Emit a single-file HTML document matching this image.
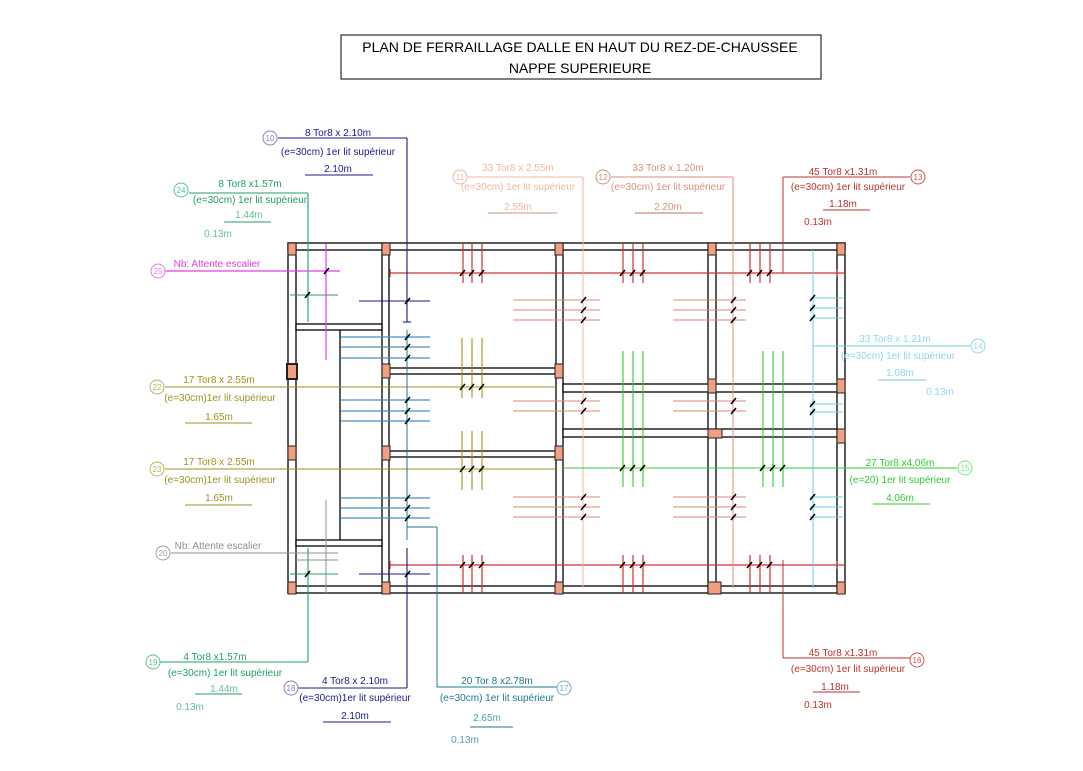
<!DOCTYPE html>
<html><head><meta charset="utf-8">
<style>
html,body{margin:0;padding:0;background:#fff;}
svg{display:block;}
text{font-family:"Liberation Sans",sans-serif;}
.t{font-size:10px;text-anchor:middle;}
.tt{font-size:14px;text-anchor:middle;fill:#000;}
.w{fill:#fff;stroke:#000;stroke-width:1.3;}
.c{fill:#f0a080;stroke:#222;stroke-width:1;}
</style></head><body>
<svg width="1083" height="771" viewBox="0 0 1083 771" xmlns="http://www.w3.org/2000/svg">
<rect x="0" y="0" width="1083" height="771" fill="#fff"/>
<!-- title -->
<rect x="341" y="35" width="480" height="44" fill="none" stroke="#000" stroke-width="1"/>
<text class="tt" x="580" y="52">PLAN DE FERRAILLAGE DALLE EN HAUT DU REZ-DE-CHAUSSEE</text>
<text class="tt" x="580" y="73">NAPPE SUPERIEURE</text>

<!-- walls -->
<rect class="w" x="288" y="243" width="557" height="7"/>
<rect class="w" x="288" y="586" width="557" height="7"/>
<rect class="w" x="288" y="243" width="8" height="350"/>
<rect class="w" x="382" y="243" width="7" height="350"/>
<rect class="w" x="556" y="243" width="7" height="350"/>
<rect class="w" x="708" y="243" width="8" height="350"/>
<rect class="w" x="837" y="243" width="8" height="350"/>
<rect class="w" x="389" y="368" width="167" height="6"/>
<rect class="w" x="389" y="451" width="167" height="6"/>
<rect class="w" x="563" y="384" width="274" height="8"/>
<rect class="w" x="563" y="429" width="274" height="8"/>
<rect class="w" x="296" y="324" width="86" height="6"/>
<rect class="w" x="296" y="540" width="86" height="6"/>
<line x1="340" y1="330" x2="340" y2="540" stroke="#000" stroke-width="1.3"/>

<!-- columns -->
<g>
<rect class="c" x="288" y="243" width="8" height="12"/><rect class="c" x="382" y="243" width="8" height="12"/>
<rect class="c" x="555" y="243" width="8" height="12"/><rect class="c" x="708" y="243" width="8" height="12"/>
<rect class="c" x="837" y="243" width="8" height="12"/>
<rect class="c" x="288" y="582" width="8" height="12"/><rect class="c" x="382" y="582" width="8" height="12"/>
<rect class="c" x="555" y="582" width="8" height="12"/><rect class="c" x="708" y="582" width="13" height="12"/>
<rect class="c" x="837" y="582" width="8" height="12"/>
<rect class="c" x="287" y="364" width="10" height="15" style="stroke-width:2"/>
<rect class="c" x="382" y="364" width="8" height="14"/><rect class="c" x="555" y="364" width="8" height="14"/>
<rect class="c" x="288" y="446" width="8" height="14"/><rect class="c" x="382" y="446" width="8" height="14"/>
<rect class="c" x="555" y="446" width="8" height="14"/>
<rect class="c" x="708" y="379" width="8" height="14"/><rect class="c" x="837" y="379" width="8" height="14"/>
<rect class="c" x="708" y="429" width="14" height="9"/><rect class="c" x="837" y="429" width="8" height="14"/>
</g>

<!-- red bars -->
<g stroke="#d03030" stroke-width="1.2">
<line x1="390" y1="273" x2="845" y2="273"/>
<line x1="390" y1="565" x2="845" y2="565"/>
<line x1="463" y1="244" x2="463" y2="283"/><line x1="472" y1="244" x2="472" y2="283"/><line x1="482" y1="244" x2="482" y2="283"/>
<line x1="623" y1="244" x2="623" y2="283"/><line x1="633" y1="244" x2="633" y2="283"/><line x1="643" y1="244" x2="643" y2="283"/>
<line x1="750" y1="244" x2="750" y2="283"/><line x1="760" y1="244" x2="760" y2="283"/><line x1="770" y1="244" x2="770" y2="283"/>
<line x1="463" y1="555" x2="463" y2="594"/><line x1="472" y1="555" x2="472" y2="594"/><line x1="482" y1="555" x2="482" y2="594"/>
<line x1="623" y1="555" x2="623" y2="594"/><line x1="633" y1="555" x2="633" y2="594"/><line x1="643" y1="555" x2="643" y2="594"/>
<line x1="750" y1="555" x2="750" y2="594"/><line x1="760" y1="555" x2="760" y2="594"/><line x1="770" y1="555" x2="770" y2="594"/>
<line x1="390" y1="269" x2="390" y2="277"/><line x1="390" y1="561" x2="390" y2="569"/>
<line x1="837" y1="269" x2="837" y2="277"/><line x1="837" y1="561" x2="837" y2="569"/>
</g>

<!-- salmon bars -->
<g stroke="#d88878" stroke-width="1">
<line x1="513" y1="300" x2="600" y2="300"/><line x1="513" y1="310" x2="600" y2="310"/><line x1="513" y1="320" x2="600" y2="320"/>
<line x1="673" y1="300" x2="746" y2="300"/><line x1="673" y1="310" x2="746" y2="310"/><line x1="673" y1="320" x2="746" y2="320"/>
<line x1="513" y1="401" x2="600" y2="401"/><line x1="513" y1="411" x2="600" y2="411"/>
<line x1="673" y1="401" x2="746" y2="401"/><line x1="673" y1="411" x2="746" y2="411"/>
<line x1="513" y1="497" x2="600" y2="497"/><line x1="513" y1="507" x2="600" y2="507"/><line x1="513" y1="517" x2="600" y2="517"/>
<line x1="673" y1="497" x2="746" y2="497"/><line x1="673" y1="507" x2="746" y2="507"/><line x1="673" y1="517" x2="746" y2="517"/>
</g>
<line x1="583" y1="177" x2="583" y2="588" stroke="#f0b8a0" stroke-width="1"/>
<line x1="468" y1="177" x2="583" y2="177" stroke="#f0b8a0" stroke-width="1"/>
<line x1="733" y1="177" x2="733" y2="588" stroke="#d89080" stroke-width="1"/>
<line x1="611" y1="177" x2="733" y2="177" stroke="#d89080" stroke-width="1"/>

<!-- olive -->
<g stroke="#a09020" stroke-width="1.1">
<line x1="165" y1="387" x2="556" y2="387"/><line x1="165" y1="469" x2="556" y2="469"/>
<line x1="462" y1="338" x2="462" y2="398"/><line x1="472" y1="338" x2="472" y2="398"/><line x1="482" y1="338" x2="482" y2="398"/>
<line x1="462" y1="431" x2="462" y2="490"/><line x1="472" y1="431" x2="472" y2="490"/><line x1="482" y1="431" x2="482" y2="490"/>
</g>

<!-- bright green -->
<g stroke="#30cc30" stroke-width="1.1">
<line x1="563" y1="468" x2="957" y2="468"/>
<line x1="623" y1="351" x2="623" y2="487"/><line x1="633" y1="351" x2="633" y2="487"/><line x1="643" y1="351" x2="643" y2="487"/>
<line x1="763" y1="351" x2="763" y2="487"/><line x1="773" y1="351" x2="773" y2="487"/><line x1="783" y1="351" x2="783" y2="487"/>
</g>

<!-- cyan -->
<g stroke="#70c8e0" stroke-width="1">
<line x1="813" y1="250" x2="813" y2="588"/>
<line x1="813" y1="346" x2="970" y2="346"/>
<line x1="810" y1="298" x2="843" y2="298"/><line x1="810" y1="308" x2="843" y2="308"/><line x1="810" y1="318" x2="843" y2="318"/>
<line x1="810" y1="404" x2="843" y2="404"/><line x1="810" y1="412" x2="843" y2="412"/>
<line x1="810" y1="497" x2="843" y2="497"/><line x1="810" y1="507" x2="843" y2="507"/><line x1="810" y1="517" x2="843" y2="517"/>
</g>

<!-- blue-teal horizontals -->
<g stroke="#4a90c0" stroke-width="1.3">
<line x1="341" y1="337" x2="430" y2="337"/><line x1="341" y1="347" x2="430" y2="347"/><line x1="341" y1="358" x2="430" y2="358"/>
<line x1="341" y1="400" x2="430" y2="400"/><line x1="341" y1="411" x2="430" y2="411"/><line x1="341" y1="421" x2="430" y2="421"/>
<line x1="341" y1="498" x2="430" y2="498"/><line x1="341" y1="508" x2="430" y2="508"/><line x1="341" y1="518" x2="430" y2="518"/>
</g>
<g stroke="#207890" stroke-width="1">
<line x1="407" y1="330" x2="407" y2="540"/>
<line x1="407" y1="527" x2="437" y2="527"/>
<line x1="437" y1="527" x2="437" y2="687"/>
<line x1="437" y1="687" x2="557" y2="687"/>
</g>

<!-- navy -->
<g stroke="#1a1a90" stroke-width="1.1">
<line x1="278" y1="138" x2="407" y2="138"/>
<line x1="407" y1="138" x2="407" y2="322"/>
<line x1="359" y1="301" x2="430" y2="301"/>
<line x1="403" y1="322" x2="411" y2="322"/>
<line x1="407" y1="548" x2="407" y2="688"/>
<line x1="359" y1="574" x2="430" y2="574"/>
<line x1="297" y1="688" x2="407" y2="688"/>
</g>

<!-- green (24/19) -->
<g stroke="#20a060" stroke-width="1.1">
<line x1="189" y1="193" x2="308" y2="193"/>
<line x1="308" y1="193" x2="308" y2="322"/>
<line x1="290" y1="295" x2="338" y2="295"/>
<line x1="308" y1="548" x2="308" y2="662"/>
<line x1="290" y1="574" x2="338" y2="574"/>
<line x1="160" y1="662" x2="308" y2="662"/>
</g>

<!-- magenta -->
<g stroke="#e040e0" stroke-width="1.2">
<line x1="165" y1="271" x2="340" y2="271"/>
<line x1="326" y1="244" x2="326" y2="360"/>
</g>
<!-- gray 20 -->
<g stroke="#909090" stroke-width="1">
<line x1="171" y1="553" x2="338" y2="553"/>
<line x1="326" y1="500" x2="326" y2="593"/>
<line x1="296" y1="560" x2="338" y2="560"/>
</g>

<!-- 13 / 16 leaders -->
<g stroke="#c03030" stroke-width="1">
<line x1="783" y1="177" x2="910" y2="177"/>
<line x1="783" y1="177" x2="783" y2="273"/>
<line x1="783" y1="560" x2="783" y2="658"/>
<line x1="783" y1="658" x2="910" y2="658"/>
</g>

<!-- black ticks -->
<g stroke="#000" stroke-width="1.5">
<path d="M460 276l5-6M469 276l5-6M479 276l5-6M620 276l5-6M630 276l5-6M640 276l5-6M747 276l5-6M757 276l5-6M767 276l5-6"/>
<path d="M460 568l5-6M469 568l5-6M479 568l5-6M620 568l5-6M630 568l5-6M640 568l5-6M747 568l5-6M757 568l5-6M767 568l5-6"/>
<path d="M460 390l5-6M469 390l5-6M479 390l5-6M460 472l5-6M469 472l5-6M479 472l5-6"/>
<path d="M620 471l5-6M630 471l5-6M640 471l5-6M760 471l5-6M770 471l5-6M780 471l5-6"/>
<path d="M581 303l5-6M581 313l5-6M581 323l5-6M731 303l5-6M731 313l5-6M731 323l5-6"/>
<path d="M581 404l5-6M581 414l5-6M731 404l5-6M731 414l5-6"/>
<path d="M581 500l5-6M581 510l5-6M581 520l5-6M731 500l5-6M731 510l5-6M731 520l5-6"/>
<path d="M810 301l5-6M810 311l5-6M810 321l5-6M810 407l5-6M810 415l5-6M810 500l5-6M810 510l5-6M810 520l5-6"/>
<path d="M405 340l5-6M405 350l5-6M405 361l5-6M405 403l5-6M405 414l5-6M405 424l5-6M405 501l5-6M405 511l5-6M405 521l5-6"/>
<path d="M305 298l5-6M305 577l5-6M324 274l5-6M405 304l5-6M405 577l5-6"/>
</g>

<!-- circles -->
<g fill="#fff" stroke-width="1">
<circle cx="270" cy="138" r="7" stroke="#8080c0"/>
<circle cx="181" cy="190" r="7" stroke="#60c090"/>
<circle cx="158" cy="271" r="7" stroke="#e080e0"/>
<circle cx="157" cy="387" r="7" stroke="#c0b060"/>
<circle cx="157" cy="469" r="7" stroke="#c0b060"/>
<circle cx="163" cy="553" r="7" stroke="#a0a0a0"/>
<circle cx="153" cy="662" r="7" stroke="#60c090"/>
<circle cx="291" cy="688" r="7" stroke="#8080c0"/>
<circle cx="564" cy="688" r="7" stroke="#70b0c0"/>
<circle cx="460" cy="177" r="7" stroke="#f0b8a0"/>
<circle cx="603" cy="177" r="7" stroke="#d89080"/>
<circle cx="918" cy="177" r="7" stroke="#d05050"/>
<circle cx="917" cy="660" r="7" stroke="#d05050"/>
<circle cx="978" cy="346" r="7" stroke="#90d8e8"/>
<circle cx="965" cy="468" r="7" stroke="#80e080"/>
</g>
<g class="t" style="font-size:8px">
<text x="270" y="141" fill="#8080c0">10</text><text x="181" y="193" fill="#60c090">24</text>
<text x="158" y="274" fill="#e080e0">25</text><text x="157" y="390" fill="#c0b060">22</text>
<text x="157" y="472" fill="#c0b060">23</text><text x="163" y="556" fill="#a0a0a0">20</text>
<text x="153" y="665" fill="#60c090">19</text><text x="291" y="691" fill="#8080c0">18</text>
<text x="564" y="691" fill="#70b0c0">17</text><text x="460" y="180" fill="#f0b8a0">11</text>
<text x="603" y="180" fill="#d89080">12</text><text x="918" y="180" fill="#d05050">13</text>
<text x="917" y="663" fill="#d05050">16</text><text x="978" y="349" fill="#90d8e8">14</text>
<text x="965" y="471" fill="#80e080">15</text>
</g>

<!-- labels -->
<g class="t">
<g fill="#1a1a90"><text x="338" y="136">8 Tor8 x 2.10m</text><text x="338" y="155">(e=30cm) 1er lit supérieur</text><text x="338" y="172">2.10m</text></g>
<line x1="305" y1="175" x2="373" y2="175" stroke="#1a1a90"/>
<g fill="#20a060"><text x="250" y="187">8 Tor8 x1.57m</text><text x="250" y="203">(e=30cm) 1er lit supérieur</text></g>
<g fill="#60c090"><text x="249" y="218">1.44m</text><text x="218" y="237">0.13m</text></g>
<line x1="224" y1="222" x2="271" y2="222" stroke="#20a060"/>
<text x="217" y="267" fill="#e040e0">Nb: Attente escalier</text>
<g fill="#f0b8a0"><text x="518" y="171">33 Tor8 x 2.55m</text><text x="518" y="190">(e=30cm) 1er lit supérieur</text><text x="518" y="210">2.55m</text></g>
<line x1="488" y1="213" x2="557" y2="213" stroke="#d89080"/>
<g fill="#d89080"><text x="668" y="171">33 Tor8 x 1.20m</text><text x="668" y="190">(e=30cm) 1er lit supérieur</text><text x="668" y="210">2.20m</text></g>
<line x1="635" y1="213" x2="703" y2="213" stroke="#c07060"/>
<g fill="#c03030"><text x="843" y="175">45 Tor8 x1.31m</text><text x="848" y="190">(e=30cm) 1er lit supérieur</text><text x="843" y="207">1.18m</text><text x="818" y="225">0.13m</text></g>
<line x1="823" y1="210" x2="870" y2="210" stroke="#c03030"/>
<g fill="#90d8e8"><text x="895" y="342">33 Tor8 x 1.21m</text><text x="898" y="359">(e=30cm) 1er lit supérieur</text><text x="900" y="376">1.08m</text><text x="940" y="395">0.13m</text></g>
<line x1="878" y1="380" x2="926" y2="380" stroke="#70c8e0"/>
<g fill="#a09020"><text x="219" y="383">17 Tor8 x 2.55m</text><text x="220" y="401">(e=30cm)1er lit supérieur</text><text x="219" y="420">1.65m</text>
<text x="219" y="465">17 Tor8 x 2.55m</text><text x="220" y="483">(e=30cm)1er lit supérieur</text><text x="219" y="501">1.65m</text></g>
<line x1="185" y1="423" x2="252" y2="423" stroke="#a09020"/>
<line x1="185" y1="505" x2="252" y2="505" stroke="#a09020"/>
<g fill="#30cc30"><text x="900" y="466">27 Tor8 x4.06m</text><text x="900" y="483">(e=20) 1er lit supérieur</text><text x="900" y="501">4.06m</text></g>
<line x1="873" y1="504" x2="930" y2="504" stroke="#30cc30"/>
<text x="218" y="549" fill="#909090">Nb: Attente escalier</text>
<g fill="#20a060"><text x="215" y="660">4 Tor8 x1.57m</text><text x="225" y="676">(e=30cm) 1er lit supérieur</text></g>
<g fill="#60c090"><text x="224" y="692">1.44m</text><text x="190" y="710">0.13m</text></g>
<line x1="195" y1="694" x2="242" y2="694" stroke="#20a060"/>
<g fill="#1a1a90"><text x="355" y="684">4 Tor8 x 2.10m</text><text x="355" y="701">(e=30cm)1er lit supérieur</text><text x="355" y="719">2.10m</text></g>
<line x1="323" y1="722" x2="391" y2="722" stroke="#1a1a90"/>
<g fill="#207890"><text x="497" y="684">20 Tor 8 x2.78m</text><text x="497" y="701">(e=30cm) 1er lit supérieur</text></g>
<g fill="#50a0b0"><text x="487" y="721">2.65m</text><text x="465" y="743">0.13m</text></g>
<line x1="470" y1="727" x2="513" y2="727" stroke="#207890"/>
<g fill="#c03030"><text x="843" y="656">45 Tor8 x1.31m</text><text x="848" y="672">(e=30cm) 1er lit supérieur</text><text x="835" y="690">1.18m</text><text x="818" y="708">0.13m</text></g>
<line x1="813" y1="692" x2="860" y2="692" stroke="#c03030"/>
</g>
</svg>
</body></html>
